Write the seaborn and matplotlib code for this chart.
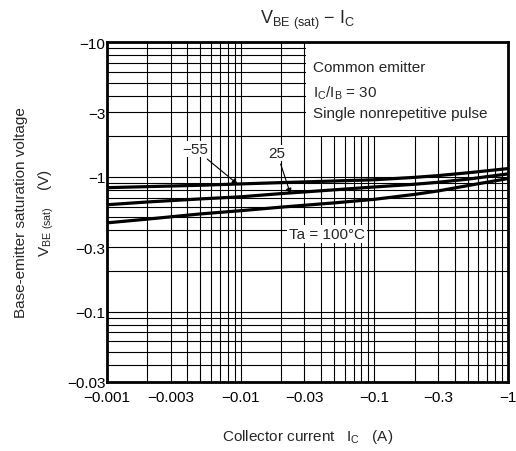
import numpy as np
import pandas as pd
import seaborn as sns
import matplotlib.pyplot as plt
from matplotlib.patches import Rectangle
from matplotlib.ticker import LogLocator, NullFormatter

# Collector current magnitude (A) and VBE(sat) magnitude (V) for each ambient temperature
ic = [0.001, 0.002, 0.005, 0.01, 0.02, 0.05, 0.1, 0.2, 0.3, 0.5, 1.0]
vbe_m55 = [0.83, 0.845, 0.865, 0.885, 0.905, 0.93, 0.95, 0.99, 1.02, 1.07, 1.15]
vbe_25 = [0.62, 0.65, 0.685, 0.71, 0.75, 0.80, 0.84, 0.88, 0.91, 0.96, 1.05]
vbe_100 = [0.455, 0.485, 0.53, 0.56, 0.595, 0.64, 0.68, 0.74, 0.785, 0.86, 0.97]

x_ticks = [0.001, 0.003, 0.01, 0.03, 0.1, 0.3, 1]
x_labels = ["\u22120.001", "\u22120.003", "\u22120.01", "\u22120.03", "\u22120.1", "\u22120.3", "\u22121"]
y_ticks = [0.03, 0.1, 0.3, 1, 3, 10]
y_labels = ["\u22120.03", "\u22120.1", "\u22120.3", "\u22121", "\u22123", "\u221210"]

df = pd.DataFrame({
    "ic": ic * 3,
    "vbe": vbe_m55 + vbe_25 + vbe_100,
    "ta": ["-55"] * len(ic) + ["25"] * len(ic) + ["100"] * len(ic),
})

sns.set_style("white")
plt.rcParams["font.family"] = ["Liberation Sans", "DejaVu Sans"]
plt.rcParams["mathtext.default"] = "regular"

fig = plt.figure(figsize=(5.16, 4.52), dpi=100)
ax = fig.add_axes([107 / 516, 1 - 383 / 452, 401 / 516, 340 / 452])

sns.lineplot(data=df, x="ic", y="vbe", hue="ta", palette=["black"] * 3,
             linewidth=2.3, legend=False, ax=ax, zorder=3)

ax.set_xscale("log")
ax.set_yscale("log")
ax.set_xlim(0.001, 1)
ax.set_ylim(0.03, 10)

ax.set_xticks(x_ticks)
ax.set_xticklabels(x_labels)
ax.set_yticks(y_ticks)
ax.set_yticklabels(y_labels)
ax.xaxis.set_minor_locator(LogLocator(base=10, subs=np.arange(2, 10)))
ax.yaxis.set_minor_locator(LogLocator(base=10, subs=np.arange(2, 10)))
ax.xaxis.set_minor_formatter(NullFormatter())
ax.yaxis.set_minor_formatter(NullFormatter())
ax.tick_params(which="both", length=0, labelsize=11, colors="black")
ax.tick_params(axis="x", pad=6)
ax.tick_params(axis="y", pad=1)

ax.grid(True, which="both", color="black", linewidth=0.8)
ax.set_axisbelow(True)
for s in ax.spines.values():
    s.set_visible(True)
    s.set_color("black")
    s.set_linewidth(2)
    s.set_zorder(5)

# white panel behind the conditions text
ax.add_patch(Rectangle((0.496, 0.7235), 0.504, 0.2765, transform=ax.transAxes,
                       facecolor="white", edgecolor="none", zorder=2))
ax.text(0.514, 0.926, "Common emitter", transform=ax.transAxes, fontsize=11, va="center", zorder=4)
ax.text(0.514, 0.853, "$I_C/I_B$ = 30", transform=ax.transAxes, fontsize=11, va="center", zorder=4)
ax.text(0.514, 0.792, "Single nonrepetitive pulse", transform=ax.transAxes, fontsize=11, va="center", zorder=4)

arrow = dict(arrowstyle="-|>", color="black", lw=0.8, mutation_scale=8, shrinkA=2, shrinkB=0)
ax.annotate("\u221255", xy=(0.0095, 0.88), xytext=(0.00455, 1.61), fontsize=11,
            ha="center", va="center", arrowprops=arrow, zorder=4,
            bbox=dict(facecolor="white", edgecolor="none", pad=1))
ax.annotate("25", xy=(0.0236, 0.745), xytext=(0.0187, 1.50), fontsize=11,
            ha="center", va="center", arrowprops=arrow, zorder=4,
            bbox=dict(facecolor="white", edgecolor="none", pad=1))
ax.text(0.044, 0.378, "Ta = 100\u00b0C", fontsize=11, ha="center", va="center", zorder=4,
        bbox=dict(facecolor="white", edgecolor="none", pad=1.5))

ax.set_title("$V_{BE\\ (sat)}$ \u2212 $I_C$", fontsize=13, pad=14)
ax.set_xlabel("Collector current   $I_C$   (A)", fontsize=11, labelpad=16)
ax.set_ylabel("Base-emitter saturation voltage\n$V_{BE\\ (sat)}$    (V)", fontsize=11,
              labelpad=8, linespacing=1.7)

fig.savefig("out.png", dpi=100)
